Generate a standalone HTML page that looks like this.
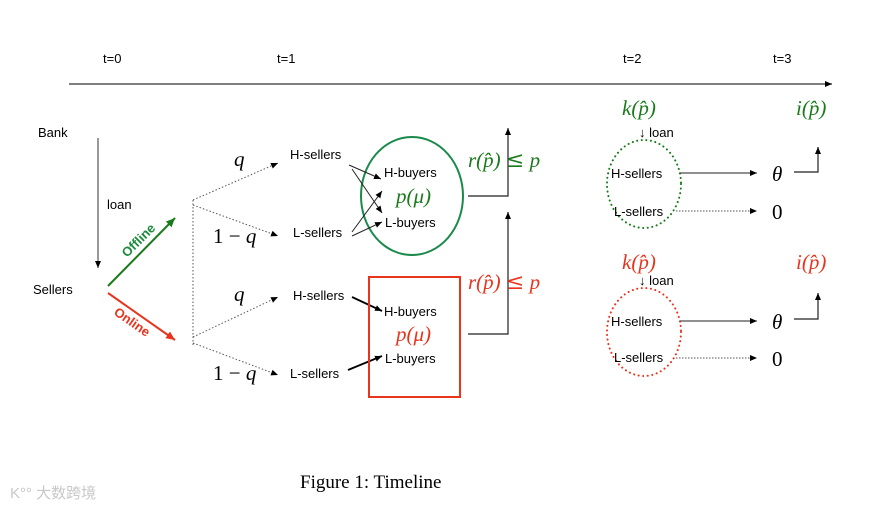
<!DOCTYPE html>
<html><head><meta charset="utf-8"><style>
html,body{margin:0;padding:0;background:#fff;}
svg{display:block;}
.s{font-family:"Liberation Sans",sans-serif;font-size:13px;fill:#000;}
.m{font-family:"Liberation Serif",serif;font-style:italic;font-size:21px;}
.n{font-family:"Liberation Serif",serif;font-size:21px;}
.le{font-family:"DejaVu Serif",serif;font-style:normal;font-size:22px;}
</style></head><body>
<svg width="869" height="509" viewBox="0 0 869 509" xmlns="http://www.w3.org/2000/svg">
<defs>
<marker id="a" markerWidth="8" markerHeight="8" refX="7" refY="4" orient="auto" markerUnits="userSpaceOnUse"><path d="M0,1 L7,4 L0,7 z" fill="#000"/></marker>
<marker id="g" markerWidth="10" markerHeight="10" refX="9" refY="5" orient="auto" markerUnits="userSpaceOnUse"><path d="M0,1 L9,5 L0,9 z" fill="#1a7a1a"/></marker>
<marker id="r" markerWidth="10" markerHeight="10" refX="9" refY="5" orient="auto" markerUnits="userSpaceOnUse"><path d="M0,1 L9,5 L0,9 z" fill="#e8341c"/></marker>
</defs>
<line x1="69" y1="84" x2="832" y2="84" stroke="#333" stroke-width="1.2" marker-end="url(#a)"/>
<text class="s" x="103" y="63" font-size="12">t=0</text>
<text class="s" x="277" y="63" font-size="12">t=1</text>
<text class="s" x="623" y="63" font-size="12">t=2</text>
<text class="s" x="773" y="63" font-size="12">t=3</text>
<text class="s" x="38" y="137">Bank</text>
<line x1="98" y1="138" x2="98" y2="268" stroke="#333" marker-end="url(#a)"/>
<text class="s" x="107" y="209" font-size="15">loan</text>
<text class="s" x="33" y="294">Sellers</text>
<line x1="108" y1="286" x2="175" y2="218" stroke="#1a7a1a" stroke-width="2" marker-end="url(#g)"/>
<text class="s" transform="translate(127,258) rotate(-45)" style="fill:#1a8a3a;font-weight:bold" font-size="12">Offline</text>
<line x1="108" y1="293" x2="175" y2="340" stroke="#e8341c" stroke-width="2" marker-end="url(#r)"/>
<text class="s" transform="translate(113,314) rotate(35)" style="fill:#e8341c;font-weight:bold" font-size="12">Online</text>
<g stroke="#555" stroke-dasharray="1.5,2" fill="none">
<line x1="193" y1="200" x2="193" y2="345"/>
<line x1="193" y1="200" x2="278" y2="163" marker-end="url(#a)"/>
<line x1="193" y1="205" x2="278" y2="236" marker-end="url(#a)"/>
<line x1="193" y1="337" x2="278" y2="297" marker-end="url(#a)"/>
<line x1="193" y1="343" x2="278" y2="375" marker-end="url(#a)"/>
</g>
<text class="m" x="234" y="166">q</text>
<text class="n" x="213" y="243">1 − <tspan font-style="italic">q</tspan></text>
<text class="m" x="234" y="301">q</text>
<text class="n" x="213" y="380">1 − <tspan font-style="italic">q</tspan></text>
<text class="s" x="290" y="159">H-sellers</text>
<text class="s" x="293" y="237">L-sellers</text>
<text class="s" x="293" y="300">H-sellers</text>
<text class="s" x="290" y="378">L-sellers</text>
<ellipse cx="412" cy="196" rx="51" ry="59" fill="none" stroke="#1a8a4a" stroke-width="2"/>
<text class="s" x="384" y="177">H-buyers</text>
<text class="m" x="396" y="203" style="fill:#1a7a1a">p(μ)</text>
<text class="s" x="385" y="227">L-buyers</text>
<g stroke="#222" stroke-width="1">
<line x1="349" y1="165" x2="381" y2="179" marker-end="url(#a)"/>
<line x1="352" y1="169" x2="382" y2="213" marker-end="url(#a)"/>
<line x1="352" y1="232" x2="382" y2="191" marker-end="url(#a)"/>
<line x1="352" y1="236" x2="382" y2="222" marker-end="url(#a)"/>
</g>
<g stroke="#000" stroke-width="1.8">
<line x1="352" y1="297" x2="382" y2="311" marker-end="url(#a)"/>
<line x1="348" y1="370" x2="382" y2="356" marker-end="url(#a)"/>
</g>
<rect x="369" y="277" width="91" height="120" fill="none" stroke="#e8341c" stroke-width="2"/>
<text class="s" x="384" y="316">H-buyers</text>
<text class="m" x="396" y="341" style="fill:#e8341c">p(μ)</text>
<text class="s" x="385" y="363">L-buyers</text>
<path d="M468,196 H508 V128" fill="none" stroke="#222" stroke-width="1.2" marker-end="url(#a)"/>
<path d="M468,334 H508 V212" fill="none" stroke="#222" stroke-width="1.2" marker-end="url(#a)"/>
<text class="m" x="468" y="167" style="fill:#1a7a1a">r(p̂) <tspan class="le">≤</tspan> p</text>
<text class="m" x="468" y="289" style="fill:#e8341c">r(p̂) <tspan class="le">≤</tspan> p</text>
<text class="m" x="622" y="115" style="fill:#1a7a1a">k(p̂)</text>
<text class="s" x="639" y="137" font-size="13">↓ loan</text>
<ellipse cx="644" cy="184" rx="37" ry="44" fill="none" stroke="#1a7a1a" stroke-width="2" stroke-dasharray="0.1,4.5" stroke-linecap="round"/>
<text class="s" x="611" y="178" font-size="12">H-sellers</text>
<text class="s" x="614" y="216" font-size="12">L-sellers</text>
<line x1="680" y1="173" x2="757" y2="173" stroke="#222" marker-end="url(#a)"/>
<line x1="676" y1="211" x2="757" y2="211" stroke="#555" stroke-dasharray="1.5,1.5" marker-end="url(#a)"/>
<text class="m" x="772" y="181">θ</text>
<text class="n" x="772" y="219">0</text>
<path d="M794,172 H818 V147" fill="none" stroke="#222" stroke-width="1.2" marker-end="url(#a)"/>
<text class="m" x="796" y="115" style="fill:#1a7a1a">i(p̂)</text>
<text class="m" x="622" y="269" style="fill:#e8341c">k(p̂)</text>
<text class="s" x="639" y="285" font-size="13">↓ loan</text>
<ellipse cx="644" cy="332" rx="37" ry="44" fill="none" stroke="#e8341c" stroke-width="2" stroke-dasharray="0.1,4.5" stroke-linecap="round"/>
<text class="s" x="611" y="326" font-size="12">H-sellers</text>
<text class="s" x="614" y="362" font-size="12">L-sellers</text>
<line x1="680" y1="321" x2="757" y2="321" stroke="#222" marker-end="url(#a)"/>
<line x1="676" y1="358" x2="757" y2="358" stroke="#555" stroke-dasharray="1.5,1.5" marker-end="url(#a)"/>
<text class="m" x="772" y="329">θ</text>
<text class="n" x="772" y="366">0</text>
<path d="M794,319 H818 V293" fill="none" stroke="#222" stroke-width="1.2" marker-end="url(#a)"/>
<text class="m" x="796" y="269" style="fill:#e8341c">i(p̂)</text>
<text x="300" y="488" style="font-family:'Liberation Serif',serif;font-size:19px">Figure 1:  Timeline</text>
<text x="10" y="498" style="font-family:'Liberation Sans','Noto Sans CJK SC',sans-serif;font-size:15px;fill:#c8c8c8">K°° 大数跨境</text>
</svg>
</body></html>
